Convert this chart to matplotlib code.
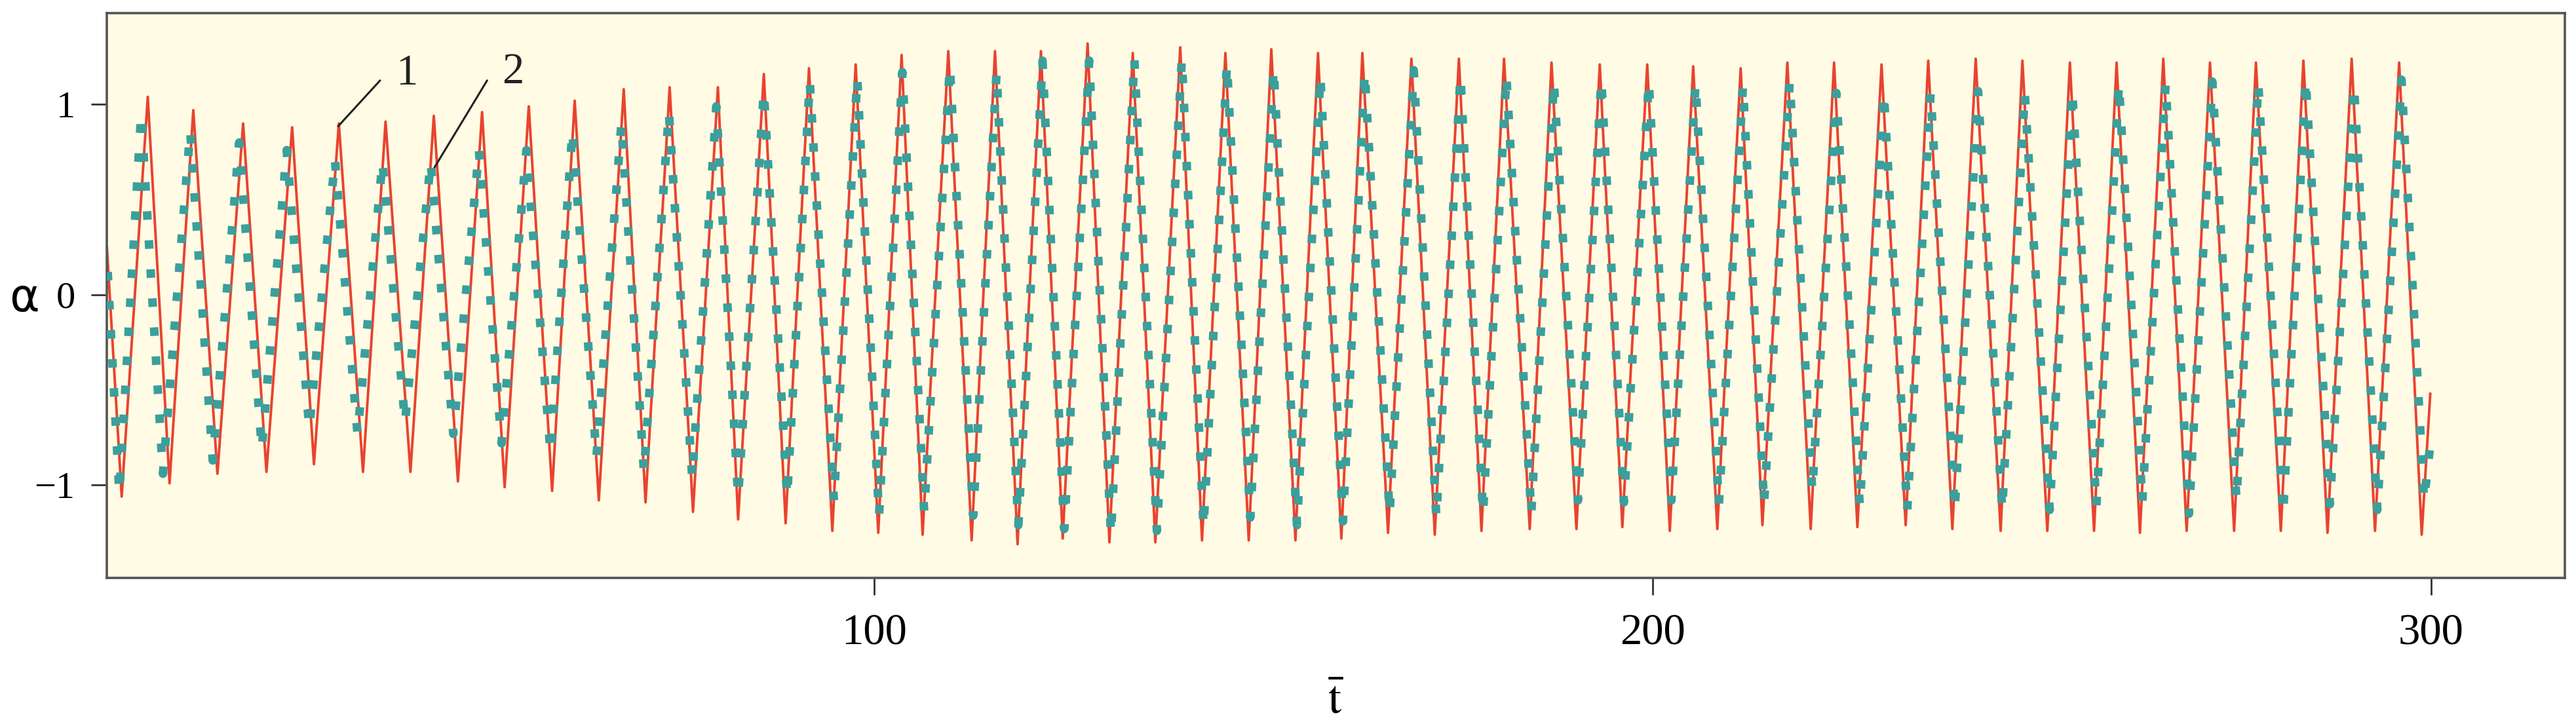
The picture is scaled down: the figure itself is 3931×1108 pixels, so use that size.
import matplotlib
matplotlib.use('Agg')
import matplotlib.pyplot as plt

# extrema of curve 1 (red): time and alpha
red_t = [1.4, 3.3, 6.65, 9.45, 12.5, 15.6, 18.9, 21.9, 25.2, 28.0, 31.2, 34.3, 37.2, 40.4,
         43.4, 46.5, 49.6, 52.5, 55.6, 58.6, 61.5, 64.6, 67.8, 70.6, 73.7, 76.7, 79.9, 82.5,
         85.8, 88.6, 91.6, 94.6, 97.6, 100.5, 103.5, 106.2, 109.5, 112.5, 115.5, 118.4, 121.4,
         124.2, 127.4, 130.2, 133.2, 136.1, 139.3, 142.1, 145.1, 148.1, 151.0, 154.1, 157.0,
         160.0, 162.7, 166.0, 169.0, 172.0, 175.1, 178.0, 180.9, 184.2, 187.0, 190.2, 193.2,
         196.1, 199.3, 202.2, 205.2, 208.3, 211.3, 214.1, 217.3, 220.3, 223.3, 226.3, 229.4,
         232.5, 235.4, 238.5, 241.5, 244.7, 247.5, 250.7, 253.6, 256.7, 259.6, 262.6, 265.6,
         268.6, 271.6, 274.7, 277.5, 280.7, 283.6, 286.7, 289.8, 292.8, 295.9, 298.8, 299.9]
red_a = [0.25, -1.06, 1.04, -0.99, 0.97, -0.94, 0.90, -0.93, 0.88, -0.89, 0.90, -0.93, 0.91, -0.93,
         0.94, -0.98, 0.96, -1.01, 0.99, -1.03, 1.02, -1.08, 1.08, -1.09, 1.09, -1.14, 1.09, -1.18,
         1.16, -1.20, 1.19, -1.24, 1.21, -1.25, 1.26, -1.26, 1.28, -1.29, 1.28, -1.31, 1.28,
         -1.28, 1.32, -1.30, 1.27, -1.30, 1.30, -1.29, 1.27, -1.29, 1.29, -1.29, 1.27,
         -1.28, 1.27, -1.25, 1.24, -1.26, 1.24, -1.24, 1.24, -1.23, 1.22, -1.23, 1.21,
         -1.22, 1.21, -1.24, 1.20, -1.23, 1.19, -1.21, 1.22, -1.23, 1.22, -1.22, 1.21,
         -1.21, 1.23, -1.23, 1.24, -1.24, 1.23, -1.24, 1.22, -1.24, 1.22, -1.25, 1.24,
         -1.24, 1.22, -1.24, 1.22, -1.24, 1.23, -1.25, 1.24, -1.24, 1.22, -1.26, -0.52]

# extrema of curve 2 (teal, dotted)
teal_t = [1.5, 3.0, 5.8, 8.6, 12.1, 15.0, 18.4, 21.3, 24.5, 27.4, 30.7, 33.6, 36.8, 39.7,
          43.0, 45.9, 49.2, 52.1, 55.3, 58.4, 61.2, 64.3, 67.5, 70.4, 73.6, 76.6, 79.7, 82.5,
          85.8, 88.8, 91.7, 94.8, 97.8, 100.6, 103.6, 106.4, 109.7, 112.7, 115.7, 118.5, 121.6,
          124.4, 127.6, 130.4, 133.4, 136.3, 139.5, 142.3, 145.3, 148.3, 151.3, 154.3, 157.3,
          160.2, 163.0, 166.2, 169.3, 172.2, 175.3, 178.2, 181.2, 184.4, 187.3, 190.4, 193.4,
          196.3, 199.5, 202.4, 205.5, 208.5, 211.6, 214.3, 217.6, 220.5, 223.6, 226.6, 229.7,
          232.7, 235.7, 238.8, 241.8, 244.9, 247.8, 251.0, 253.9, 257.0, 259.9, 262.9, 265.9,
          268.9, 271.9, 275.0, 277.8, 281.0, 283.9, 287.0, 290.1, 293.1, 296.2, 299.1, 300.0]
teal_a = [0.12, -1.04, 0.95, -0.94, 0.86, -0.87, 0.80, -0.81, 0.76, -0.70, 0.71, -0.73, 0.70, -0.67,
          0.70, -0.73, 0.76, -0.78, 0.76, -0.83, 0.86, -0.85, 0.90, -0.93, 0.96, -0.96, 0.99, -1.06,
          1.07, -1.06, 1.12, -1.08, 1.14, -1.16, 1.17, -1.14, 1.20, -1.16, 1.17, -1.21, 1.23,
          -1.23, 1.23, -1.26, 1.24, -1.24, 1.24, -1.22, 1.21, -1.17, 1.19, -1.21, 1.15,
          -1.19, 1.17, -1.15, 1.18, -1.17, 1.15, -1.15, 1.15, -1.15, 1.12, -1.08, 1.13,
          -1.09, 1.12, -1.08, 1.11, -1.10, 1.10, -1.10, 1.12, -1.03, 1.06, -1.11, 1.06,
          -1.13, 1.06, -1.13, 1.07, -1.13, 1.06, -1.13, 1.07, -1.11, 1.11, -1.09, 1.11,
          -1.15, 1.12, -1.08, 1.11, -1.15, 1.13, -1.10, 1.10, -1.13, 1.13, -1.08, -0.75]

x_ticks = [100, 200, 300]
y_ticks = [-1, 0, 1]

plt.rcParams['font.family'] = ['Liberation Serif', 'DejaVu Serif']
plt.rcParams['mathtext.fontset'] = 'stix'

fig = plt.figure(figsize=(39.31, 11.08), dpi=100)
ax = fig.add_axes([0.0415, 0.204, 0.9542, 0.778])
ax.set_facecolor('#fffbe4')

ax.plot(red_t, red_a, color='#e8432f', lw=2.8, solid_joinstyle='round', zorder=2)
ax.plot(teal_t, teal_a, color='#3b9f9c', lw=9.4, linestyle=(0, (1, 2.4)),
        dash_capstyle='butt', zorder=3)

ax.set_xlim(1.4, 317.2)
ax.set_ylim(-1.487, 1.48)
ax.set_xticks(x_ticks)
ax.set_yticks(y_ticks)
ax.tick_params(axis='x', labelsize=48, length=19, width=2, pad=20, color='#333333')
ax.tick_params(axis='y', labelsize=42, length=17, width=2, pad=18, color='#333333')
for s in ax.spines.values():
    s.set_color('#555555')
    s.set_linewidth(2.6)

ax.set_xlabel(r'$\bar{\mathrm{t}}$', fontsize=52, labelpad=30)
fig.text(0.0035, 0.589, '\u03b1', fontsize=50, family='DejaVu Sans', va='center', ha='left')

# leader lines for the curve numbers
ax.annotate('', xy=(31.1, 0.885), xytext=(36.5, 1.126),
            arrowprops=dict(arrowstyle='-', color='#222222', lw=2.2, shrinkA=0, shrinkB=0))
ax.annotate('', xy=(43.5, 0.67), xytext=(50.25, 1.126),
            arrowprops=dict(arrowstyle='-', color='#222222', lw=2.2, shrinkA=0, shrinkB=0))
ax.text(39.9, 1.16, '1', fontsize=48, ha='center', va='center', color='#222222')
ax.text(53.6, 1.17, '2', fontsize=48, ha='center', va='center', color='#222222')

fig.savefig('out.png', dpi=100, facecolor='white')
